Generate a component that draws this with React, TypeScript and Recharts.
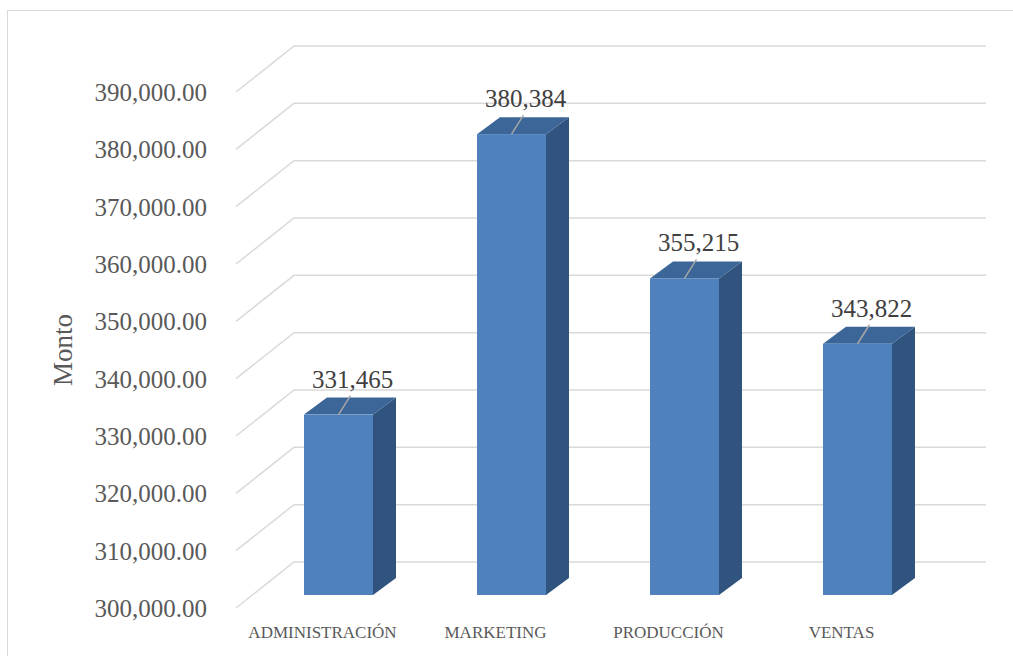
import { BarChart, Bar, XAxis, YAxis, CartesianGrid, LabelList } from "recharts";

const categories = ["ADMINISTRACIÓN", "MARKETING", "PRODUCCIÓN", "VENTAS"];
const montos = [331465, 380384, 355215, 343822];
const yTicks = [300000, 310000, 320000, 330000, 340000, 350000, 360000, 370000, 380000, 390000];

const data = categories.map((c, i) => ({ area: c, monto: montos[i] }));

// 3D offsets: back wall and bar plane relative to the front plane
const WALL_DX = 58;
const WALL_DY = -46;
const BAR_DX = 16;
const BAR_DY = -13;
const DEPTH_DX = 23;
const DEPTH_DY = -17;

const FONT = "'Liberation Serif', 'DejaVu Serif', serif";

function GridLine(props: any) {
  const { x1, y1, x2 } = props;
  const d = `M${x1},${y1} L${x1 + WALL_DX},${y1 + WALL_DY} L${x2 + WALL_DX},${y1 + WALL_DY}`;
  return <path d={d} fill="none" stroke="#D9D9D9" strokeWidth={1.5} />;
}

function Bar3D(props: any) {
  const { x, y, width, height } = props;
  const fx = x + BAR_DX;
  const fy = y + BAR_DY;
  const top = `${fx},${fy} ${fx + DEPTH_DX},${fy + DEPTH_DY} ${fx + width + DEPTH_DX},${fy + DEPTH_DY} ${fx + width},${fy}`;
  const side = `${fx + width},${fy} ${fx + width + DEPTH_DX},${fy + DEPTH_DY} ${fx + width + DEPTH_DX},${fy + height + DEPTH_DY} ${fx + width},${fy + height}`;
  return (
    <g>
      <polygon points={side} fill="#31547F" />
      <polygon points={top} fill="#3D6698" />
      <rect x={fx} y={fy} width={width} height={height} fill="#4F81BD" />
    </g>
  );
}

function ValueLabel(props: any) {
  const { x, y, width, value } = props;
  const cx = x + BAR_DX + width / 2;
  const fy = y + BAR_DY;
  return (
    <g>
      <line x1={cx} y1={fy} x2={cx + 12} y2={fy - 19} stroke="#A6A6A6" strokeWidth={1.5} />
      <text x={cx + 14} y={fy - 27} textAnchor="middle" fontSize={25} fill="#404040" fontFamily={FONT}>
        {Number(value).toLocaleString("en-US")}
      </text>
    </g>
  );
}

function YTick(props: any) {
  const { y, payload } = props;
  return (
    <text x={207} y={y} dy={9} textAnchor="end" fontSize={25} fill="#595959" fontFamily={FONT}>
      {Number(payload.value).toLocaleString("en-US", { minimumFractionDigits: 2, maximumFractionDigits: 2 })}
    </text>
  );
}

function XTick(props: any) {
  const { x, y, payload } = props;
  return (
    <text x={x} y={y} dy={22} textAnchor="middle" fontSize={17} fill="#595959" fontFamily={FONT}>
      {payload.value}
    </text>
  );
}

export default function App() {
  return (
    <div style={{ position: "absolute", left: 0, top: 0, width: 1013, height: 656, background: "#fff", overflow: "hidden" }}>
      <div style={{ position: "absolute", left: 7, top: 10, width: 1020, height: 660, border: "1.5px solid #D9D9D9", boxSizing: "border-box" }} />
      <div style={{ position: "absolute", left: 0, top: 0 }}>
        <BarChart width={1013} height={656} data={data} margin={{ top: 92, right: 85, bottom: 0, left: 0 }}>
          <CartesianGrid vertical={false} horizontal={(p: any) => <GridLine key={p.key ?? `${p.y1}`} {...p} />} />
          <XAxis dataKey="area" axisLine={false} tickLine={false} height={48} tick={<XTick />} interval={0} />
          <YAxis
            domain={[300000, 390000]}
            ticks={yTicks}
            axisLine={false}
            tickLine={false}
            width={236}
            tick={<YTick />}
            allowDataOverflow
            label={{ value: "Monto", angle: -90, position: "insideLeft", offset: 62, style: { fontSize: 27, fill: "#595959", fontFamily: FONT, textAnchor: "middle" } }}
          />
          <Bar dataKey="monto" barSize={69} shape={<Bar3D />} isAnimationActive={false}>
            <LabelList dataKey="monto" content={<ValueLabel />} />
          </Bar>
        </BarChart>
      </div>
    </div>
  );
}
